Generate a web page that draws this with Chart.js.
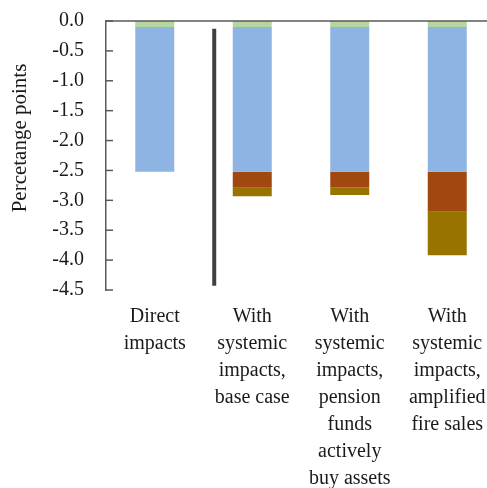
<!DOCTYPE html>
<html>
<head>
<meta charset="utf-8">
<script src="https://cdn.jsdelivr.net/npm/chart.js@4.4.1/dist/chart.umd.min.js"></script>
<style>
  html, body { margin: 0; padding: 0; background: #fff; overflow: hidden; }
  #wrap { width: 487px; height: 488px; overflow: hidden; }
</style>
</head>
<body>
<div id="wrap"><canvas id="c" width="500" height="488"></canvas></div>
<script>
// Scenario labels (one array per wrapped label)
const categories = [
  ['Direct', 'impacts'],
  ['With', 'systemic', 'impacts,', 'base case'],
  ['With', 'systemic', 'impacts,', 'pension', 'funds', 'actively', 'buy assets'],
  ['With', 'systemic', 'impacts,', 'amplified', 'fire sales']
];

// Stacked contributions, percentage points (stacked downward in this order)
const otherEffects   = [-0.10, -0.10, -0.10, -0.10];
const directLosses   = [-2.42, -2.42, -2.42, -2.42];
const fireSales      = [null, -0.27, -0.26, -0.67];
const secondRound    = [null, -0.14, -0.13, -0.73];

const yTicks = { min: -4.5, max: 0, step: 0.5 };
const yTitle = 'Percetange points';

const FONT = '"Liberation Serif", "DejaVu Serif", serif';
const AXIS = '#595959';

// Extra strokes: zero line, inward tick marks, scenario divider, vertical title
const decorations = {
  id: 'decorations',
  afterDraw(chart) {
    const { ctx, chartArea, scales } = chart;
    const y = scales.y, x = scales.x;
    ctx.save();
    // zero line across the top
    ctx.strokeStyle = AXIS;
    ctx.lineWidth = 1.5;
    const y0 = y.getPixelForValue(0);
    ctx.beginPath();
    ctx.moveTo(chartArea.left, y0);
    ctx.lineTo(chartArea.right, y0);
    ctx.stroke();
    // inward tick marks on the value axis
    y.ticks.forEach(t => {
      const py = y.getPixelForValue(t.value);
      ctx.beginPath();
      ctx.moveTo(chartArea.left, py);
      ctx.lineTo(chartArea.left + 7, py);
      ctx.stroke();
    });
    // divider between the direct and systemic scenarios
    ctx.strokeStyle = '#404040';
    ctx.lineWidth = 4;
    const xd = x.getPixelForValue(0.61);
    ctx.beginPath();
    ctx.moveTo(xd, y.getPixelForValue(-0.13));
    ctx.lineTo(xd, y.getPixelForValue(-4.43));
    ctx.stroke();
    // axis title
    ctx.fillStyle = '#1a1a1a';
    ctx.font = '21px ' + FONT;
    ctx.textAlign = 'center';
    ctx.textBaseline = 'middle';
    ctx.translate(20, 138);
    ctx.rotate(-Math.PI / 2);
    ctx.fillText(yTitle, 0, 0);
    ctx.restore();
  }
};

const ds = (label, data, color) => ({
  label, data, backgroundColor: color, borderWidth: 0,
  barPercentage: 0.4, categoryPercentage: 1.0
});

new Chart(document.getElementById('c'), {
  type: 'bar',
  data: {
    labels: categories,
    datasets: [
      ds('Other effects', otherEffects, '#B7D59E'),
      ds('Direct losses', directLosses, '#8EB4E3'),
      ds('Fire sales', fireSales, '#A0480F'),
      ds('Second round', secondRound, '#997300')
    ]
  },
  options: {
    responsive: false,
    animation: false,
    layout: { padding: { top: 21, right: 4, left: 0, bottom: 0 } },
    plugins: { legend: { display: false }, tooltip: { enabled: false } },
    scales: {
      x: {
        stacked: true,
        grid: { display: false, drawTicks: false },
        border: { display: false },
        ticks: {
          color: '#1a1a1a', padding: 13, maxRotation: 0, autoSkip: false,
          font: { family: FONT, size: 20, lineHeight: 1.35 }
        },
        afterFit(s) { s.height = 198; s.paddingLeft = 0; s.paddingRight = 0; }
      },
      y: {
        stacked: true,
        min: yTicks.min, max: yTicks.max,
        grid: { display: false, drawTicks: false },
        border: { display: true, color: AXIS, width: 1.5 },
        ticks: {
          stepSize: yTicks.step, color: '#1a1a1a', padding: 22,
          font: { family: FONT, size: 20 },
          callback: v => v.toFixed(1)
        },
        afterFit(s) { s.width = 106; s.paddingTop = 0; s.paddingBottom = 0; }
      }
    }
  },
  plugins: [decorations]
});
</script>
</body>
</html>
